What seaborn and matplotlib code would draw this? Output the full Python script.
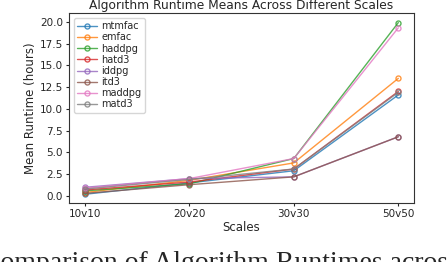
import numpy as np
import pandas as pd
import seaborn as sns
import matplotlib
matplotlib.use("Agg")
import matplotlib.pyplot as plt

# chart data
scales = ["10v10", "20v20", "30v30", "50v50"]
algorithms = ["mtmfac", "emfac", "haddpg", "hatd3", "iddpg", "itd3", "maddpg", "matd3"]
mtmfac = [0.2, 1.5, 2.9, 11.6]
emfac = [0.4, 1.8, 3.8, 13.5]
haddpg = [0.6, 1.4, 4.3, 19.9]
hatd3 = [0.7, 1.6, 3.1, 12.0]
iddpg = [1.0, 2.0, 2.2, 6.8]
itd3 = [0.3, 1.3, 2.2, 6.8]
maddpg = [0.9, 2.0, 4.3, 19.3]
matd3 = [0.8, 1.9, 3.1, 11.9]

series = [mtmfac, emfac, haddpg, hatd3, iddpg, itd3, maddpg, matd3]
df = pd.DataFrame(
    [(s, a, v) for a, vals in zip(algorithms, series) for s, v in zip(scales, vals)],
    columns=["Scales", "Algorithm", "Runtime"],
)

sns.set_style("ticks")
plt.rcParams["font.family"] = ["DejaVu Sans"]

fig = plt.figure(figsize=(4.48, 2.62), dpi=100)
ax = fig.add_axes([69 / 448, 1 - 203 / 262, (414 - 69) / 448, (203 - 13) / 262])

sns.lineplot(
    data=df, x="Scales", y="Runtime", hue="Algorithm", hue_order=algorithms,
    palette="tab10", marker="o", markersize=3.6, linewidth=1.0, alpha=0.8, ax=ax,
)

# open circle markers in the line colour
for ln in ax.get_lines():
    ln.set_markeredgecolor(ln.get_color())
    ln.set_markerfacecolor("none")
    ln.set_markeredgewidth(1.0)

ax.set_title("Algorithm Runtime Means Across Different Scales", fontsize=8.8, pad=3)
ax.set_xlabel("Scales", fontsize=8.5, labelpad=1)
ax.set_ylabel("Mean Runtime (hours)", fontsize=8.5, labelpad=2)
ax.set_yticks(np.arange(0, 20.1, 2.5))
ax.set_ylim(-0.8, 21.0)
ax.tick_params(labelsize=7.5, length=2.5, pad=2)
for sp in ax.spines.values():
    sp.set_linewidth(0.8)
    sp.set_color("#333333")

leg = ax.legend(loc="upper left", fontsize=7, handlelength=2.0, labelspacing=0.12,
                borderpad=0.35, handletextpad=0.5, framealpha=0.8)
for ln in leg.get_lines():
    ln.set_markeredgecolor(ln.get_color())
    ln.set_markerfacecolor("none")
    ln.set_markeredgewidth(1.0)

# caption of the paper figure, cut by the crop
fig.text(-0.04, -0.03, "Comparison of Algorithm Runtimes across",
         fontsize=20, family=["Liberation Serif", "DejaVu Serif"], ha="left", va="baseline")

fig.savefig("out.png", dpi=100)
